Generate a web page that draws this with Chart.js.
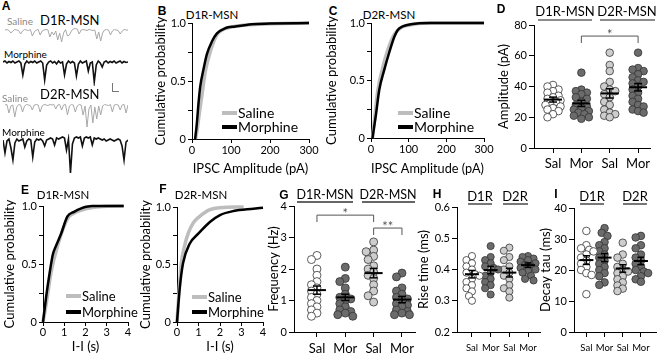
<!DOCTYPE html>
<html>
<head>
<meta charset="utf-8">
<script src="https://cdn.jsdelivr.net/npm/chart.js@4.4.1/dist/chart.umd.min.js"></script>
<style>
  body { margin: 0; width: 661px; height: 360px; position: relative; background: #fff; overflow: hidden; font-family: Lato, "Open Sans", sans-serif; }
  canvas { position: absolute; }
  .t { position: absolute; line-height: 1; white-space: nowrap; color: #000; }
  .ln { position: absolute; }
</style>
</head>
<body>
<script>
// ---- panel A: example traces (pA, one sample every ~2 px) ----
const traceD1Sal = [0, 0.5, -0.5, -3, -1, 0.5, 0, -0.5, -4, -1, 0.5, 0, -0.5, 0.5, -6, -2, 0, 0.5, -5, -1, 0, 0.5, 0, -7, -2, -5, -1, -10, -3, -12, -3, 0.5, -6, -5, -1, 1, 1.5, 1, -4, 0, 0.5, 0, -0.5, 0.5, 0, -0.5, 0, -9, -2, -11, -3, 0, 0.5, 0, -5, -1, 0.5, 0, -0.5, -4, -1, 0.5, 0, 0];
const traceD1Mor = [0, 1, -1, 0.5, -0.5, 1, -1, 0, 1, -1, -13, -2, 1, -1, 0.5, -0.5, 1, -1, 0, 1, -1, -18, -3, 0, 1, -1, 0.5, -2, 1, -1, 0, -13, -2, 1, -1, 0.5, -1, -14, -2, 1, -1, 0, 1, -9, -1, 0, -20, -3, 1, -1, -5, 0, 1, -1, 0.5, -0.5, 1, -1, 0, 1, -1, 0.5, -0.5, 0];
const traceD2Sal = [0, 0.5, -8, -1, 0, -12, -2, 0.5, 0, -7, -1, 0.5, 0, -0.5, -5, 0, 0.5, 0, -7, -1, 0.5, 0, -0.5, 0.5, 0, 0.5, -4, 0, 0.5, -5, 0, 0.5, -10, -1, 0.5, 0, -7, -1, 0.5, 0, -10, -1, -22, -4, 0, -18, -2, -14, -1, -10, -1, 0.5, 0, -0.5, 0.5, -7, 0, 0.5, 0, -5, 0, 0.5, -8, 0];
const traceD2Mor = [0, -13, -1, 1, -8, -20, -3, 1, -1, 0, 1, -7, -1, 1, 0, -17, -2, 1, 0, 1, -1, -6, 0, 1, 2, 1, -5, 2, 1, 2, 3, 2, -10, 1, -33, -4, 2, 3, 2, 3, -6, 2, 3, 2, 3, -5, 2, 1, 2, 1, 0, 1, -1, 0, 1, 0, -1, 0, 1, 0, -6, -20, -2, 0];

// ---- B / C: cumulative IPSC amplitude (pA) ----
const ampD1SalX = [9, 14, 20, 25.5, 34, 47, 64, 77, 100, 130, 170, 300];
const ampD1SalY = [0, 0.1, 0.25, 0.38, 0.58, 0.755, 0.9, 0.94, 0.965, 0.98, 0.99, 1.0];
const ampD1MorX = [8, 12, 17, 21, 30, 38, 51, 64, 85, 111, 153, 200, 300];
const ampD1MorY = [0, 0.12, 0.32, 0.45, 0.61, 0.73, 0.84, 0.91, 0.955, 0.97, 0.99, 0.995, 1.0];
const ampD2SalX = [4, 10, 18, 31, 44, 62, 80, 100, 150, 300];
const ampD2SalY = [0, 0.18, 0.41, 0.61, 0.76, 0.9, 0.96, 0.98, 1.0, 1.0];
const ampD2MorX = [4, 13, 22, 35, 49, 62, 71, 84, 106, 160, 300];
const ampD2MorY = [0, 0.2, 0.42, 0.59, 0.75, 0.88, 0.94, 0.97, 0.99, 1.0, 1.0];

// ---- E / F: cumulative inter-event interval (s) ----
const iiD1SalX = [0, 0.1, 0.23, 0.38, 0.69, 1.15, 1.6, 2.0, 2.4, 3.0, 3.8];
const iiD1SalY = [0, 0.1, 0.25, 0.43, 0.66, 0.89, 0.95, 0.975, 0.99, 0.998, 1.0];
const iiD1MorX = [0, 0.15, 0.31, 0.46, 0.62, 0.85, 1.15, 1.46, 1.8, 2.1, 2.3, 3.8];
const iiD1MorY = [0, 0.22, 0.42, 0.58, 0.66, 0.76, 0.91, 0.95, 0.98, 0.995, 1.0, 1.0];
const iiD2SalX = [0, 0.1, 0.2, 0.35, 0.52, 0.75, 1.0, 1.53, 2.0, 3.1];
const iiD2SalY = [0, 0.28, 0.51, 0.66, 0.77, 0.86, 0.91, 0.977, 0.994, 1.0];
const iiD2MorX = [0, 0.12, 0.28, 0.59, 1.0, 1.53, 2.0, 2.63, 3.56, 4.0];
const iiD2MorY = [0, 0.28, 0.51, 0.68, 0.77, 0.87, 0.93, 0.965, 0.985, 0.994];

// ---- D: amplitude per cell (pA) ----
const groupLabels = ['Sal', 'Mor', 'Sal', 'Mor'];
const ampSalD1 = [41, 40, 38, 37, 36, 34, 33, 32, 31, 30, 29, 28, 27, 26, 25, 24, 22, 20];
const ampMorD1 = [49, 38, 37, 36, 35, 33, 32, 30, 28, 27, 26, 25, 24, 23, 22, 21, 20, 19];
const ampSalD2 = [62, 54, 50, 43, 40, 38, 37, 35, 33, 30, 28, 25, 23, 22, 21, 20];
const ampMorD2 = [62, 52, 51, 50, 48, 46, 44, 43, 42, 40, 38, 36, 34, 32, 30, 28, 27, 25, 24, 23];
const ampMean = [31.5, 29, 35.5, 39.5];
const ampSem = [1.6, 2.0, 3.0, 2.4];

// ---- G: frequency (Hz) ----
const freqSalD1 = [2.43, 2.3, 2.0, 1.8, 1.6, 1.5, 1.4, 1.3, 1.2, 1.1, 1.0, 0.9, 0.8, 0.7, 0.6, 0.5];
const freqMorD1 = [2.06, 1.7, 1.6, 1.4, 1.2, 1.1, 1.05, 1.0, 0.9, 0.8, 0.7, 0.65, 0.6, 0.55, 0.5];
const freqSalD2 = [2.86, 2.6, 2.55, 2.4, 2.3, 2.1, 2.0, 1.9, 1.8, 1.7, 1.5, 1.3, 1.15, 0.95];
const freqMorD2 = [1.87, 1.75, 1.4, 1.3, 1.2, 1.1, 1.05, 1.0, 0.9, 0.85, 0.8, 0.7, 0.65, 0.6, 0.55, 0.55];
const freqMean = [1.33, 1.1, 1.87, 1.03];
const freqSem = [0.13, 0.1, 0.15, 0.1];

// ---- H: rise time (ms) ----
const riseSalD1 = [0.443, 0.43, 0.42, 0.41, 0.40, 0.39, 0.385, 0.38, 0.37, 0.36, 0.35, 0.34, 0.33, 0.315, 0.30];
const riseMorD1 = [0.475, 0.44, 0.43, 0.42, 0.41, 0.405, 0.40, 0.39, 0.38, 0.37, 0.36, 0.35, 0.34, 0.32];
const riseSalD2 = [0.47, 0.46, 0.44, 0.43, 0.41, 0.40, 0.39, 0.38, 0.37, 0.35, 0.34, 0.33, 0.31];
const riseMorD2 = [0.443, 0.44, 0.435, 0.43, 0.425, 0.42, 0.415, 0.41, 0.405, 0.40, 0.395, 0.39, 0.38, 0.37, 0.365];
const riseMean = [0.385, 0.398, 0.39, 0.414];
const riseSem = [0.012, 0.012, 0.014, 0.007];

// ---- I: decay tau (ms) ----
const decaySalD1 = [32.6, 28, 27, 26.5, 26, 25, 24, 23, 22, 21, 20, 19, 18.4, 12.2];
const decayMorD1 = [33.5, 32, 31, 29, 28, 27, 26, 25, 24, 23, 22, 21, 20, 19, 18, 16, 15.2];
const decaySalD2 = [28.8, 25, 24, 22, 21, 20, 19.5, 19, 18, 17, 16, 15, 14, 13.2];
const decayMorD2 = [31, 30.5, 28, 27, 25, 24, 23, 22, 21, 20, 19.5, 19, 18, 17, 16.2];
const decayMean = [23.2, 24, 20.5, 22.9];
const decaySem = [1.4, 1.3, 1.2, 1.2];

Chart.defaults.font.family = 'Lato, "Open Sans", sans-serif';
Chart.defaults.color = '#000';

const SAL = '#bdbdbd';
const fills = ['#ffffff', '#6b6b6b', '#cdcdcd', '#6b6b6b'];

function addCanvas(box) {
    const c = document.createElement('canvas');
    c.width = box.w;
    c.height = box.h;
    c.style.left = box.x + 'px';
    c.style.top = box.y + 'px';
    document.body.appendChild(c);
    return c;
}

// text centred on (x, y); o.left -> left aligned
function txt(s, x, y, o = {}) {
    const d = document.createElement('div');
    d.className = 't';
    d.textContent = s;
    d.style.left = x + 'px';
    d.style.top = y + 'px';
    d.style.fontSize = (o.size || 12) + 'px';
    if (o.bold) { d.style.fontWeight = 'bold'; d.style.fontFamily = 'Arial, "Liberation Sans", sans-serif'; }
    if (o.color) d.style.color = o.color;
    d.style.transform = o.left ? 'translate(0,-50%)' : 'translate(-50%,-50%)';
    document.body.appendChild(d);
}

function bar(x, y, w, h, color) {
    const d = document.createElement('div');
    d.className = 'ln';
    Object.assign(d.style, { left: x + 'px', top: y + 'px', width: w + 'px', height: h + 'px', background: color });
    document.body.appendChild(d);
}

function legend(x, y1, y2, size) {
    bar(x, y1 - 2, 15, 4, SAL);
    bar(x, y2 - 2, 15, 4, '#000');
    txt('Saline', x + 16, y1, { left: true, size });
    txt('Morphine', x + 16, y2, { left: true, size });
}

const zip = (xs, ys) => xs.map((x, i) => ({ x, y: ys[i] }));

function axisBase(tickLen, pad, size) {
    return {
        grid: { drawOnChartArea: false, drawTicks: true, tickLength: tickLen, color: '#000', lineWidth: 1 },
        border: { display: true, color: '#000', width: 1 },
        ticks: { padding: pad, font: { size }, color: '#000', maxRotation: 0, autoSkip: false }
    };
}

function baseOptions(box, area) {
    return {
        responsive: false, animation: false, events: [],
        layout: { padding: { left: 0, bottom: 0, top: area.t - box.y, right: box.x + box.w - area.r } },
        plugins: { legend: { display: false }, tooltip: { enabled: false } }
    };
}

// ---- trace chart (panel A) ----
function traceChart(vals, box, yMin, yMax, color, width) {
    new Chart(addCanvas(box), {
        type: 'line',
        data: { datasets: [{ data: vals.map((v, i) => ({ x: i, y: v })), borderColor: color, borderWidth: width, pointRadius: 0, tension: 0, clip: false }] },
        options: {
            responsive: false, animation: false, events: [],
            plugins: { legend: { display: false }, tooltip: { enabled: false } },
            scales: { x: { type: 'linear', display: false, min: 0, max: vals.length - 1 }, y: { display: false, min: yMin, max: yMax } }
        }
    });
}

// ---- cumulative probability chart ----
function cdfChart(box, area, xMax, xStep, xTitle, sal, mor, xPad) {
    const opts = baseOptions(box, area);
    const xa = axisBase(4, xPad, 11);
    const ya = axisBase(4, 2, 11);
    opts.scales = {
        x: Object.assign(xa, {
            type: 'linear', min: 0, max: xMax,
            afterFit: s => { s.height = box.y + box.h - area.b; },
            title: { display: true, text: xTitle, font: { size: 13 }, padding: { top: 0, bottom: 0 } }
        }),
        y: Object.assign(ya, {
            min: 0, max: 1,
            afterFit: s => { s.width = area.l - box.x; },
            title: { display: true, text: 'Cumulative probability', font: { size: 13 }, padding: { top: 2, bottom: 0 } }
        })
    };
    opts.scales.x.ticks.stepSize = xStep;
    opts.scales.y.ticks.stepSize = 0.25;
    opts.scales.y.ticks.callback = v => (v === 0 ? '0' : v === 0.5 ? '0.5' : v === 1 ? '1.0' : '');
    new Chart(addCanvas(box), {
        type: 'line',
        data: {
            datasets: [
                { label: 'Morphine', data: mor, borderColor: '#000', borderWidth: 2.5, pointRadius: 0, cubicInterpolationMode: 'monotone', clip: false },
                { label: 'Saline', data: sal, borderColor: SAL, borderWidth: 3.5, pointRadius: 0, cubicInterpolationMode: 'monotone', clip: false }
            ]
        },
        options: opts
    });
}

// ---- mean / sem / brackets ----
const dotMarks = {
    id: 'dotMarks',
    afterDatasetsDraw(chart, args, o) {
        const { ctx } = chart;
        const x = chart.scales.x, y = chart.scales.y;
        const seg = (a, b, c, d) => { ctx.beginPath(); ctx.moveTo(a, b); ctx.lineTo(c, d); ctx.stroke(); };
        ctx.save();
        ctx.strokeStyle = '#000';
        o.means.forEach((m, i) => {
            const cx = x.getPixelForValue(i + 1);
            const my = y.getPixelForValue(m);
            const top = y.getPixelForValue(m + o.sems[i]);
            const bot = y.getPixelForValue(m - o.sems[i]);
            ctx.lineWidth = 2;
            seg(cx - o.half, my, cx + o.half, my);
            ctx.lineWidth = 1.5;
            seg(cx, top, cx, bot);
            seg(cx - o.cap, top, cx + o.cap, top);
            seg(cx - o.cap, bot, cx + o.cap, bot);
        });
        ctx.strokeStyle = '#555';
        ctx.fillStyle = '#555';
        ctx.lineWidth = 1;
        ctx.font = '13px Lato, sans-serif';
        ctx.textAlign = 'center';
        ctx.textBaseline = 'middle';
        (o.brackets || []).forEach(b => {
            const x1 = x.getPixelForValue(b.from), x2 = x.getPixelForValue(b.to);
            const yt = y.getPixelForValue(b.y), yd = y.getPixelForValue(b.drop);
            ctx.beginPath();
            ctx.moveTo(x1, yd); ctx.lineTo(x1, yt); ctx.lineTo(x2, yt); ctx.lineTo(x2, yd);
            ctx.stroke();
            ctx.fillText(b.text, (x1 + x2) / 2, yt - 1);
        });
        ctx.restore();
    }
};

// spread overlapping circles sideways (pixel offsets)
function swarm(vals, pxY, r) {
    const placed = [];
    const cands = [0, -3, 3, -5.5, 5.5, -7.5, 7.5];
    return vals.map(v => {
        const py = v * pxY;
        let best = 0, bestD = -1;
        for (const c of cands) {
            let dmin = Infinity;
            for (const p of placed) dmin = Math.min(dmin, Math.hypot(p[0] - c, p[1] - py));
            if (dmin >= 1.45 * r) { best = c; break; }
            if (dmin > bestD) { bestD = dmin; best = c; }
        }
        placed.push([best, py]);
        return best;
    });
}

function dotChart(box, area, cfg) {
    const pxY = (area.b - area.t) / (cfg.yMax - cfg.yMin);
    const pxX = (area.r - area.l) / (cfg.xMax - cfg.xMin);
    const datasets = cfg.groups.map((vals, k) => {
        const off = swarm(vals, pxY, cfg.r);
        return {
            data: vals.map((v, i) => ({ x: k + 1 + off[i] / pxX, y: v })),
            pointRadius: cfg.r, pointBackgroundColor: fills[k], pointBorderColor: '#333', pointBorderWidth: 0.8,
            showLine: false, clip: false
        };
    });
    const opts = baseOptions(box, area);
    const xa = axisBase(5, cfg.xPad, cfg.xFont);
    const ya = axisBase(5, 2, 11);
    opts.scales = {
        x: Object.assign(xa, {
            type: 'linear', min: cfg.xMin, max: cfg.xMax,
            afterFit: s => { s.height = box.y + box.h - area.b; },
            afterBuildTicks: s => { s.ticks = groupLabels.map((l, i) => ({ value: i + 1 })); }
        }),
        y: Object.assign(ya, {
            min: cfg.yMin, max: cfg.yMax,
            afterFit: s => { s.width = area.l - box.x; },
            title: { display: true, text: cfg.yTitle, font: { size: 13 }, padding: { top: 2, bottom: 0 } }
        })
    };
    opts.scales.x.ticks.callback = (v, i) => groupLabels[i];
    opts.scales.y.ticks.stepSize = cfg.yStep;
    opts.scales.y.ticks.callback = v => v.toFixed(cfg.dec);
    opts.plugins.dotMarks = { means: cfg.means, sems: cfg.sems, half: cfg.half, cap: cfg.cap, brackets: cfg.brackets };
    new Chart(addCanvas(box), { type: 'scatter', data: { datasets }, options: opts, plugins: [dotMarks] });
}

// ===== Panel A =====
txt('A', 6, 6, { bold: true, size: 12 });
txt('Saline', 7, 21, { left: true, size: 10, color: '#8a8a8a' });
txt('D1R-MSN', 40, 20, { left: true, size: 13 });
traceChart(traceD1Sal, { x: 5, y: 24, w: 123, h: 22 }, -16, 6, '#a8a8a8', 1);
txt('Morphine', 4, 54, { left: true, size: 10 });
traceChart(traceD1Mor, { x: 3, y: 56, w: 125, h: 30 }, -24, 6, '#111', 1.6);
bar(112, 83, 1, 9, '#777');
bar(112, 91, 7, 1, '#777');
txt('Saline', 2, 98, { left: true, size: 10, color: '#8a8a8a' });
txt('D2R-MSN', 40, 94, { left: true, size: 13 });
traceChart(traceD2Sal, { x: 5, y: 99, w: 123, h: 32 }, -26, 6, '#a8a8a8', 1);
txt('Morphine', 2, 132, { left: true, size: 10 });
traceChart(traceD2Mor, { x: 3, y: 134, w: 125, h: 42 }, -36, 6, '#111', 1.6);

// ===== Panel B =====
txt('B', 162, 11, { bold: true, size: 12 });
txt('D1R-MSN', 212, 15, { size: 11.5 });
cdfChart({ x: 151, y: 8, w: 170, h: 169 }, { l: 192, t: 23, r: 309, b: 139 }, 300, 100, 'IPSC Amplitude (pA)',
    zip(ampD1SalX, ampD1SalY), zip(ampD1MorX, ampD1MorY), 1);
legend(222, 113, 127, 14);

// ===== Panel C =====
txt('C', 333, 11, { bold: true, size: 12 });
txt('D2R-MSN', 389, 15, { size: 11.5 });
cdfChart({ x: 322, y: 8, w: 175, h: 169 }, { l: 371, t: 23, r: 484, b: 138 }, 300, 100, 'IPSC Amplitude (pA)',
    zip(ampD2SalX, ampD2SalY), zip(ampD2MorX, ampD2MorY), 1);
legend(398, 113, 127, 14);

// ===== Panel D =====
txt('D', 501, 9, { bold: true, size: 12 });
txt('D1R-MSN', 565, 11, { size: 13 });
bar(538, 19, 54, 2, '#8c8c8c');
txt('D2R-MSN', 627, 11, { size: 13 });
bar(600, 19, 55, 2, '#8c8c8c');
dotChart({ x: 494, y: 5, w: 166, h: 170 }, { l: 534, t: 25, r: 650, b: 148 }, {
    groups: [ampSalD1, ampMorD1, ampSalD2, ampMorD2], means: ampMean, sems: ampSem,
    yMin: 0, yMax: 80, yStep: 20, dec: 0, yTitle: 'Amplitude (pA)',
    xMin: 0.33, xMax: 4.42, xFont: 13, xPad: 3, r: 3.8, half: 9, cap: 4,
    brackets: [{ from: 2, to: 4, y: 72.8, drop: 68.3, text: '*' }]
});

// ===== Panel E =====
txt('E', 25, 190, { bold: true, size: 12 });
txt('D1R-MSN', 63, 195, { size: 11.5 });
cdfChart({ x: 0, y: 190, w: 140, h: 165 }, { l: 43, t: 206, r: 128, b: 322 }, 4, 1, 'I-I (s)',
    zip(iiD1SalX, iiD1SalY), zip(iiD1MorX, iiD1MorY), 0);
legend(66, 296, 312, 13);

// ===== Panel F =====
txt('F', 163, 189, { bold: true, size: 12 });
txt('D2R-MSN', 201, 195, { size: 11.5 });
cdfChart({ x: 136, y: 190, w: 139, h: 165 }, { l: 177, t: 207, r: 263, b: 322 }, 4, 1, 'I-I (s)',
    zip(iiD2SalX, iiD2SalY), zip(iiD2MorX, iiD2MorY), 0);
legend(192, 297, 312, 13);

// ===== Panel G =====
txt('G', 284, 195, { bold: true, size: 12 });
txt('D1R-MSN', 325, 195, { size: 12.5 });
bar(297, 201, 56, 1.5, '#666');
txt('D2R-MSN', 388, 195, { size: 12.5 });
bar(362, 201, 53, 1.5, '#666');
dotChart({ x: 264, y: 185, w: 161, h: 175 }, { l: 294, t: 206, r: 415, b: 332 }, {
    groups: [freqSalD1, freqMorD1, freqSalD2, freqMorD2], means: freqMean, sems: freqSem,
    yMin: 0, yMax: 4, yStep: 1, dec: 0, yTitle: 'Frequency (Hz)',
    xMin: 0.19, xMax: 4.46, xFont: 13, xPad: 4, r: 4, half: 9, cap: 4,
    brackets: [
        { from: 1, to: 3, y: 3.71, drop: 3.49, text: '*' },
        { from: 3, to: 4, y: 3.30, drop: 3.08, text: '**' }
    ]
});

// ===== Panel H =====
txt('H', 437, 194, { bold: true, size: 12 });
txt('D1R', 480, 196, { size: 13 });
bar(468, 203, 24, 1.5, '#777');
txt('D2R', 515, 196, { size: 13 });
bar(503, 203, 25, 1.5, '#777');
dotChart({ x: 414, y: 185, w: 136, h: 175 }, { l: 457, t: 207, r: 540, b: 332 }, {
    groups: [riseSalD1, riseMorD1, riseSalD2, riseMorD2], means: riseMean, sems: riseSem,
    yMin: 0.2, yMax: 0.6, yStep: 0.1, dec: 1, yTitle: 'Rise time (ms)',
    xMin: 0.2, xMax: 4.64, xFont: 9.5, xPad: 5, r: 3.6, half: 7, cap: 3.5
});

// ===== Panel I =====
txt('I', 556, 194, { bold: true, size: 12 });
txt('D1R', 592, 196, { size: 13 });
bar(580, 203, 24, 1.5, '#777');
txt('D2R', 635, 196, { size: 13 });
bar(623, 203, 24, 1.5, '#777');
dotChart({ x: 536, y: 185, w: 125, h: 175 }, { l: 574, t: 208, r: 660, b: 332 }, {
    groups: [decaySalD1, decayMorD1, decaySalD2, decayMorD2], means: decayMean, sems: decaySem,
    yMin: 0, yMax: 40, yStep: 10, dec: 0, yTitle: 'Decay tau (ms)',
    xMin: 0.32, xMax: 4.84, xFont: 9.5, xPad: 5, r: 3.8, half: 7, cap: 3.5
});
</script>
</body>
</html>
